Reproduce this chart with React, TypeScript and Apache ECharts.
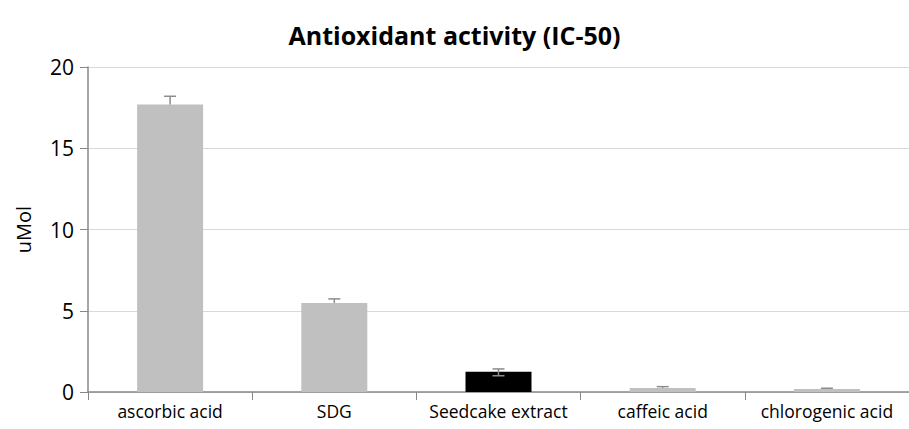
import React, { useEffect, useRef } from "react";
import * as echarts from "echarts";

const categories = ["ascorbic acid", "SDG", "Seedcake extract", "caffeic acid", "chlorogenic acid"];
const values = [17.7, 5.48, 1.25, 0.25, 0.18];
const plusErrors = [0.5, 0.25, 0.17, 0.08, 0.05];
const minusErrors = [0, 0, 0.25, 0, 0];
const barColors = ["#c0c0c0", "#c0c0c0", "#000000", "#c0c0c0", "#c0c0c0"];
const yTicks = [0, 5, 10, 15, 20];

export default function App() {
  const ref = useRef<HTMLDivElement>(null);
  useEffect(() => {
    if (!ref.current) return;
    const chart = echarts.init(ref.current, null, { renderer: "svg" });
    const errData = values.map((v, i) => [i, v - minusErrors[i], v + plusErrors[i], minusErrors[i] > 0 ? 1 : 0]);
    chart.setOption({
      animation: false,
      backgroundColor: "#ffffff",
      title: {
        text: "Antioxidant activity (IC-50)",
        left: "center",
        top: 17,
        textStyle: { fontFamily: "Open Sans", fontWeight: "bold", fontSize: 25, color: "#000" },
      },
      grid: { left: 88, right: -14, top: 67, bottom: 37, containLabel: false },
      xAxis: {
        type: "category",
        data: categories,
        axisLine: { lineStyle: { color: "#888", width: 1.5 } },
        axisTick: { show: true, interval: 0, length: 8, lineStyle: { color: "#888" } },
        axisLabel: { interval: 0, hideOverlap: false, color: "#000", fontSize: 17.5, fontFamily: "Open Sans", margin: 10 },
      },
      yAxis: {
        type: "value",
        min: yTicks[0],
        max: yTicks[yTicks.length - 1],
        interval: 5,
        name: "uMol",
        nameLocation: "middle",
        nameGap: 55,
        nameTextStyle: { fontSize: 20, fontFamily: "Open Sans", color: "#000" },
        axisLine: { show: true, lineStyle: { color: "#888", width: 1.5 } },
        axisTick: { show: true, inside: false, length: 8, lineStyle: { color: "#888" } },
        axisLabel: { color: "#000", fontSize: 21, fontFamily: "Open Sans", margin: 14 },
        splitLine: { lineStyle: { color: "#d9d9d9", width: 1 } },
      },
      series: [
        {
          type: "bar",
          data: values.map((v, i) => ({ value: v, itemStyle: { color: barColors[i] } })),
          barWidth: 66,
          z: 2,
        },
        {
          type: "custom",
          data: errData,
          z: 3,
          renderItem: (params: any, api: any) => {
            const x = api.value(0);
            const lo = api.coord([x, api.value(1)]);
            const hi = api.coord([x, api.value(2)]);
            const top = api.coord([x, values[params.dataIndex]]);
            const showLow = api.value(3) > 0;
            const w = 6;
            const style = { stroke: "#8c8c8c", lineWidth: 1.5 };
            const children: any[] = [
              { type: "line", shape: { x1: top[0], y1: showLow ? lo[1] : top[1], x2: hi[0], y2: hi[1] }, style },
              { type: "line", shape: { x1: hi[0] - w, y1: hi[1], x2: hi[0] + w, y2: hi[1] }, style },
            ];
            if (showLow) {
              children.push({ type: "line", shape: { x1: lo[0] - w, y1: lo[1], x2: lo[0] + w, y2: lo[1] }, style });
            }
            return { type: "group", children };
          },
        },
      ],
    });
    return () => chart.dispose();
  }, []);
  return <div ref={ref} style={{ position: "absolute", left: 0, top: 0, width: 909, height: 429 }} />;
}
